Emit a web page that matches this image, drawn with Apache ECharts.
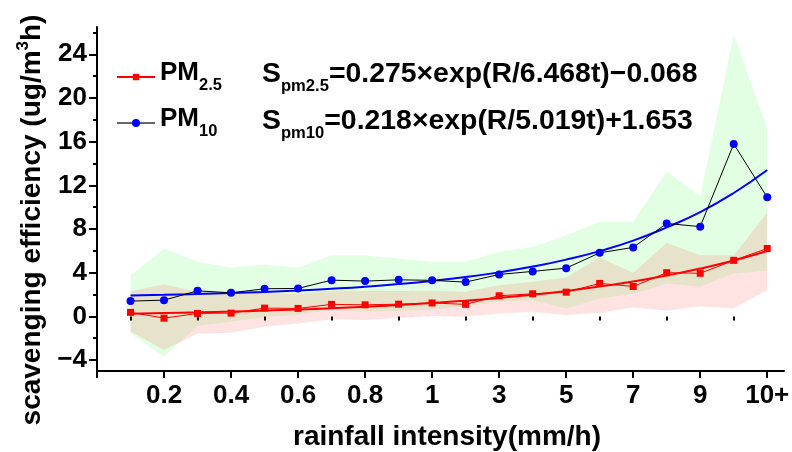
<!DOCTYPE html>
<html>
<head>
<meta charset="utf-8">
<script src="https://cdn.jsdelivr.net/npm/echarts@6/dist/echarts.min.js"></script>
<style>
  html, body { margin: 0; padding: 0; background: #fff; }
  #main { width: 792px; height: 452px; }
</style>
</head>
<body>
<div id="main"></div>
<script>
// rainfall intensity classes (mm/h), one per point
var categories = ['0.1', '0.2', '0.3', '0.4', '0.5', '0.6', '0.7', '0.8', '0.9', '1',
  '2', '3', '4', '5', '6', '7', '8', '9', '10', '10+']
var xPos = [1, 2, 3, 4, 5, 6, 7, 8, 9, 10, 11, 12, 13, 14, 15, 16, 17, 18, 19, 20]
var xLabelPos = [2, 4, 6, 8, 10, 12, 14, 16, 18, 20]
var yLabelPos = [-4, 0, 4, 8, 12, 16, 20, 24]
var yMinorPos = [-2, 2, 6, 10, 14, 18, 22, 26]

// measured means
var pm25 = [0.37, -0.16, 0.27, 0.30, 0.76, 0.73, 1.10, 1.06, 1.12, 1.23,
  1.10, 1.89, 2.07, 2.22, 3.02, 2.74, 4.00, 3.95, 5.13, 6.22]
var pm10 = [1.40, 1.49, 2.34, 2.16, 2.53, 2.56, 3.32, 3.23, 3.35, 3.30,
  3.14, 3.84, 4.12, 4.42, 5.82, 6.32, 8.51, 8.22, 15.79, 10.90]

// fitted curves
var fit25 = [0.25, 0.31, 0.37, 0.44, 0.53, 0.63, 0.74, 0.88, 1.04, 1.22,
  1.44, 1.69, 1.98, 2.33, 2.73, 3.19, 3.74, 4.38, 5.12, 5.99]
var fit10 = [1.92, 1.98, 2.05, 2.14, 2.24, 2.37, 2.53, 2.72, 2.96, 3.25,
  3.60, 4.03, 4.56, 5.20, 5.98, 6.94, 8.15, 9.55, 11.3, 13.4]

// shaded ranges
var pm10High = [3.75, 6.22, 5.0, 4.48, 4.76, 4.48, 5.61, 5.58, 5.3, 5.0,
  5.0, 5.91, 6.37, 7.44, 8.66, 8.66, 13.3, 11.0, 25.8, 17.2]
var pm10Low = [-1.56, -3.69, -0.85, -0.5, -0.05, 0.15, 0.64, 0.42, 0.51, 0.58,
  0.94, 1.34, 1.49, 0.73, 1.65, 2.04, 3.02, 2.71, 3.93, 4.17]
var pm25High = [2.31, 2.95, 2.25, 2.1, 2.15, 2.04, 2.35, 2.32, 2.33, 2.35,
  2.25, 2.86, 3.17, 3.57, 5.4, 4.0, 6.74, 5.61, 5.61, 9.5]
var pm25Low = [-1.41, -3.08, -1.6, -1.5, -0.95, -0.64, -0.28, -0.34, -0.12, 0.03,
  -0.03, 0.27, 0.42, 0.12, 0.33, 0.82, 0.51, 0.94, 0.73, 2.41]

var FONT = '"Liberation Sans", Arial, sans-serif'

function pairs (arr) {
  return xPos.map(function (x, i) { return [x, arr[i]] })
}

// one filled polygon between lo and hi, drawn through the axes
function band (name, lo, hi, color) {
  return {
    name: name, type: 'custom', silent: true,
    data: xPos.map(function (x, i) { return [x, lo[i], hi[i]] }),
    encode: { x: 0, y: [1, 2] },
    renderItem: function (params, api) {
      if (params.dataIndex !== 0) return null
      var top = []
      var bottom = []
      for (var i = 0; i < xPos.length; i++) {
        top.push(api.coord([xPos[i], hi[i]]))
        bottom.unshift(api.coord([xPos[i], lo[i]]))
      }
      return {
        type: 'polygon',
        shape: { points: top.concat(bottom) },
        style: { fill: color }
      }
    }
  }
}

var chart = echarts.init(document.getElementById('main'))

var legendRich = {
  m: { fontSize: 26, fontWeight: 'bold', fontFamily: FONT, color: '#000', lineHeight: 41 },
  s: { fontSize: 16.5, fontWeight: 'bold', fontFamily: FONT, color: '#000', lineHeight: 16, verticalAlign: 'bottom' }
}
var eqRich = {
  m: { fontSize: 28.4, fontWeight: 'bold', fontFamily: FONT, fill: '#000', lineHeight: 42 },
  s: { fontSize: 16.6, fontWeight: 'bold', fontFamily: FONT, fill: '#000', lineHeight: 16, verticalAlign: 'bottom' }
}
function legendText (name) {
  return '{m|PM}{s|' + name.slice(2) + '}'
}

var option = {
  animation: false,
  backgroundColor: '#fff',
  grid: { left: 97, right: 8, top: 27, bottom: 81, outerBoundsMode: 'none', containLabel: false },
  legend: [
    {
      data: ['PM2.5'], left: 116, top: 60, padding: 0,
      itemWidth: 38, itemHeight: 8, selectedMode: false,
      formatter: legendText,
      textStyle: { padding: [0, 0, 8, 0], rich: legendRich }
    },
    {
      data: [{ name: 'PM10', lineStyle: { color: '#666666' } }], left: 116, top: 106, padding: 0,
      itemWidth: 38, itemHeight: 10, selectedMode: false,
      formatter: legendText,
      textStyle: { padding: [0, 0, 8, 0], rich: legendRich }
    }
  ],
  xAxis: [
    {
      type: 'value', min: 0, max: 20.5,
      name: 'rainfall intensity(mm/h)', nameLocation: 'middle', nameGap: 52,
      nameTextStyle: { fontSize: 28, fontWeight: 'bold', fontFamily: FONT, color: '#000', padding: [0, 0, 0, 13] },
      axisLine: { onZero: false, lineStyle: { color: '#000', width: 2 } },
      axisTick: { customValues: [0].concat(xLabelPos), length: 7, lineStyle: { color: '#000', width: 2 } },
      axisLabel: {
        customValues: xLabelPos, margin: 12,
        fontSize: 26, fontWeight: 'bold', fontFamily: FONT, color: '#000',
        formatter: function (v) { return categories[v - 1] }
      },
      splitLine: { show: false }
    },
    {
      type: 'value', min: 0, max: 20.5, position: 'bottom',
      axisLine: { show: false },
      axisTick: { customValues: xPos.filter(function (v) { return v % 2 === 1 }), length: 4, lineStyle: { color: '#000', width: 2 } },
      axisLabel: { show: false },
      splitLine: { show: false }
    }
  ],
  yAxis: [
    {
      type: 'value', min: -5, max: 26.5,
      axisLine: { show: true, lineStyle: { color: '#000', width: 2 } },
      axisTick: { show: true, customValues: yLabelPos, length: 8, lineStyle: { color: '#000', width: 2 } },
      axisLabel: {
        customValues: yLabelPos, margin: 10,
        fontSize: 26, fontWeight: 'bold', fontFamily: FONT, color: '#000',
        formatter: function (v) { return String(v).replace('-', '\u2212') }
      },
      splitLine: { show: false }
    },
    {
      type: 'value', min: -5, max: 26.5, position: 'left',
      axisLine: { show: false },
      axisTick: { show: true, customValues: yMinorPos, length: 4, lineStyle: { color: '#000', width: 2 } },
      axisLabel: { show: false },
      splitLine: { show: false }
    }
  ],
  graphic: [
    {
      type: 'text', left: 262, top: 60,
      style: { text: '{m|S}{s|pm2.5}{m|=0.275\u00d7exp(R/6.468t)\u22120.068}', rich: eqRich }
    },
    {
      type: 'text', left: 262, top: 107,
      style: { text: '{m|S}{s|pm10}{m|=0.218\u00d7exp(R/5.019t)+1.653}', rich: eqRich }
    },
    {
      type: 'text', x: 32, y: 220, rotation: Math.PI / 2,
      style: {
        text: '{a|scavenging efficiency (ug/m}{p|3}{a|h)}',
        align: 'center', verticalAlign: 'middle',
        rich: {
          a: { fontSize: 28, fontWeight: 'bold', fontFamily: FONT, fill: '#000', lineHeight: 34 },
          p: { fontSize: 17, fontWeight: 'bold', fontFamily: FONT, fill: '#000', lineHeight: 17, verticalAlign: 'top' }
        }
      }
    }
  ],
  series: [
    band('pm10Range', pm10Low, pm10High, 'rgba(0,255,0,0.11)'),
    band('pm25Range', pm25Low, pm25High, 'rgba(255,0,0,0.11)'),
    {
      name: 'fit PM10', type: 'line', data: pairs(fit10), smooth: true,
      symbol: 'none', lineStyle: { color: '#0000ff', width: 2 }
    },
    {
      name: 'PM10', type: 'line', data: pairs(pm10),
      symbol: 'circle', symbolSize: 8,
      itemStyle: { color: '#0000ff' },
      lineStyle: { color: '#000', width: 1 }
    },
    {
      name: 'fit PM2.5', type: 'line', data: pairs(fit25), smooth: true,
      symbol: 'none', lineStyle: { color: '#ff0000', width: 2 }
    },
    {
      name: 'PM2.5', type: 'line', data: pairs(pm25),
      symbol: 'rect', symbolSize: 7,
      itemStyle: { color: '#ff0000' },
      lineStyle: { color: '#ff0000', width: 1 }
    }
  ]
}

chart.setOption(option)
</script>
</body>
</html>
